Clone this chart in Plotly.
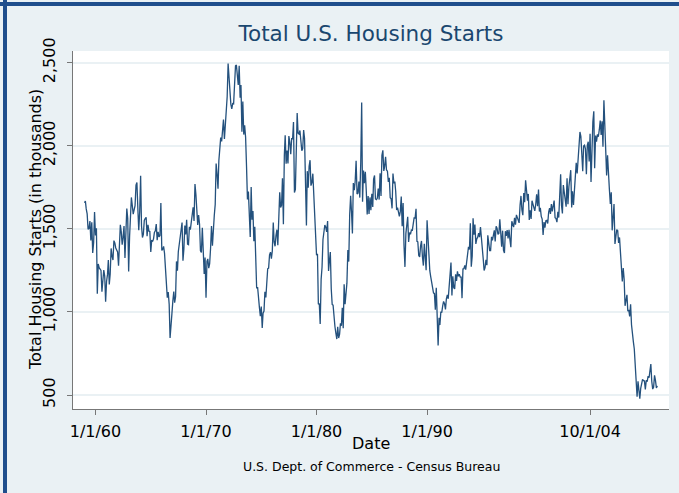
import pandas as pd
import plotly.graph_objects as go

# Monthly total U.S. housing starts (thousands, SAAR), Jan 1959 - Nov 2010
starts_1959_1969 = [
    1657, 1667, 1620, 1590, 1498, 1503, 1547, 1430, 1540, 1355, 1416, 1601,
    1460, 1503, 1109, 1289, 1266, 1260, 1250, 1122, 1176, 1252, 1216, 1061,
    1183, 1226, 1312, 1166, 1228, 1382, 1335, 1312, 1429, 1415, 1385, 1365,
    1361, 1278, 1443, 1524, 1483, 1404, 1450, 1517, 1324, 1533, 1622, 1564,
    1244, 1456, 1534, 1689, 1641, 1588, 1614, 1639, 1763, 1779, 1622, 1491,
    1603, 1820, 1517, 1448, 1467, 1550, 1562, 1569, 1455, 1524, 1486, 1484,
    1361, 1433, 1423, 1438, 1478, 1488, 1529, 1432, 1482, 1452, 1460, 1656,
    1370, 1378, 1394, 1352, 1265, 1194, 1086, 1119, 1046, 843, 961, 990,
    1067, 1123, 1056, 1091, 1304, 1248, 1364, 1407, 1421, 1491, 1538, 1308,
    1380, 1520, 1466, 1554, 1408, 1405, 1512, 1495, 1556, 1569, 1630, 1548,
    1769, 1705, 1561, 1524, 1583, 1528, 1368, 1358, 1507, 1381, 1229, 1327,
]
starts_1970s = [
    1085, 1305, 1319, 1264, 1290, 1385, 1517, 1399, 1534, 1580, 1647, 1893,
    1828, 1741, 1910, 1986, 2049, 2026, 2083, 2158, 2041, 2128, 2182, 2295,
    2494, 2390, 2334, 2249, 2221, 2254, 2252, 2382, 2481, 2485, 2421, 2366,
    2481, 2289, 2365, 2084, 2266, 2067, 2123, 2051, 1874, 1677, 1724, 1526,
    1451, 1752, 1555, 1607, 1426, 1513, 1316, 1142, 1150, 1070, 1026, 975,
    1032, 904, 993, 1005, 1121, 1087, 1226, 1260, 1264, 1344, 1360, 1321,
    1367, 1538, 1421, 1395, 1459, 1495, 1401, 1550, 1720, 1629, 1641, 1804,
    1527, 1943, 2063, 1892, 1971, 1893, 2058, 2020, 1949, 2042, 2042, 2142,
    1718, 1738, 2032, 2197, 2075, 2070, 2092, 1996, 1970, 1981, 2094, 2044,
    1630, 1520, 1847, 1748, 1876, 1913, 1760, 1778, 1832, 1681, 1524, 1498,
]
starts_1980s = [
    1341, 1350, 1047, 1051, 927, 1196, 1269, 1436, 1471, 1523, 1510, 1482,
    1547, 1246, 1306, 1360, 1140, 1045, 1041, 940, 911, 873, 837, 910,
    843, 866, 931, 917, 1025, 902, 1166, 1046, 1144, 1173, 1372, 1303,
    1586, 1699, 1606, 1472, 1776, 1733, 1785, 1910, 1710, 1715, 1785, 1688,
    1897, 2260, 1663, 1851, 1774, 1843, 1732, 1586, 1698, 1590, 1689, 1612,
    1711, 1632, 1800, 1821, 1680, 1676, 1684, 1743, 1676, 1834, 1698, 1942,
    1972, 1848, 1876, 1933, 1854, 1847, 1782, 1807, 1687, 1681, 1623, 1833,
    1774, 1784, 1726, 1614, 1628, 1594, 1575, 1605, 1695, 1515, 1656, 1400,
    1271, 1473, 1532, 1573, 1421, 1478, 1467, 1493, 1492, 1522, 1569, 1563,
    1621, 1425, 1422, 1339, 1331, 1397, 1427, 1332, 1279, 1410, 1351, 1251,
]
starts_1990s = [
    1551, 1437, 1289, 1248, 1212, 1177, 1171, 1115, 1110, 1014, 1145, 969,
    798, 965, 921, 1001, 996, 1036, 1063, 1049, 1015, 1079, 1103, 1079,
    1176, 1250, 1297, 1099, 1214, 1145, 1139, 1226, 1186, 1244, 1214, 1227,
    1210, 1210, 1083, 1258, 1260, 1280, 1254, 1300, 1343, 1392, 1376, 1533,
    1272, 1337, 1564, 1465, 1526, 1409, 1439, 1450, 1474, 1450, 1511, 1455,
    1407, 1316, 1249, 1267, 1314, 1281, 1461, 1416, 1369, 1369, 1452, 1431,
    1467, 1491, 1424, 1516, 1504, 1467, 1472, 1557, 1475, 1392, 1489, 1370,
    1355, 1486, 1457, 1492, 1442, 1494, 1437, 1390, 1546, 1520, 1510, 1566,
    1525, 1584, 1567, 1540, 1536, 1641, 1698, 1614, 1582, 1715, 1660, 1792,
    1748, 1670, 1710, 1553, 1611, 1559, 1669, 1648, 1635, 1608, 1648, 1708,
]
starts_2000s = [
    1636, 1737, 1604, 1626, 1575, 1559, 1463, 1541, 1507, 1549, 1551, 1532,
    1600, 1625, 1590, 1649, 1605, 1636, 1670, 1567, 1562, 1540, 1602, 1568,
    1698, 1829, 1642, 1592, 1764, 1717, 1655, 1633, 1804, 1648, 1753, 1788,
    1853, 1629, 1726, 1643, 1751, 1867, 1897, 1833, 1939, 1967, 2083, 2057,
    1911, 1846, 1998, 2003, 1981, 1828, 2002, 2024, 1905, 2072, 1782, 2042,
    2144, 2207, 1864, 2061, 2025, 2068, 2054, 2095, 2151, 2065, 2147, 1994,
    2273, 2119, 1969, 1821, 1942, 1802, 1737, 1650, 1720, 1491, 1570, 1649,
    1409, 1480, 1495, 1490, 1415, 1448, 1354, 1330, 1183, 1264, 1197, 1037,
    1084, 1103, 1005, 1013, 973, 1046, 923, 844, 820, 777, 652, 560,
    490, 582, 505, 478, 540, 585, 594, 586, 585, 534, 588, 581,
]
starts_2010 = [614, 605, 636, 687, 583, 536, 546, 619, 588, 543, 555]

first_month = "1959-01-01"
x_tick_dates = ["1960-01-01", "1970-01-01", "1980-01-01", "1990-01-01", "2004-10-01"]
x_tick_labels = ["1/1/60", "1/1/70", "1/1/80", "1/1/90", "10/1/04"]
y_tick_values = [500, 1000, 1500, 2000, 2500]
y_tick_labels = ["500", "1,000", "1,500", "2,000", "2,500"]

values = starts_1959_1969 + starts_1970s + starts_1980s + starts_1990s + starts_2000s + starts_2010
dates = pd.date_range(first_month, periods=len(values), freq="MS")

W, H = 679, 493
L, R, T, B = 73, 10, 51, 84
pw, ph = W - L - R, H - T - B

def px_x(px):
    return (px - L) / pw

def px_y(py):
    return (H - B - py) / ph

BG = "#EAF1F4"
NAVY = "#1A476F"
LINE = "#24517D"
FONT = "DejaVu Sans"

fig = go.Figure()
fig.add_trace(go.Scatter(x=dates, y=values, mode="lines",
                         line=dict(color=LINE, width=1.3), showlegend=False))

fig.update_layout(
    width=W, height=H,
    margin=dict(l=L, r=R, t=T, b=B),
    paper_bgcolor=BG, plot_bgcolor="white",
    font=dict(family=FONT, color="black"),
    title=dict(text="Total U.S. Housing Starts", x=0.5, xref="paper",
               y=1 - 33 / H, yref="container", yanchor="middle", xanchor="center",
               font=dict(size=21.5, color=NAVY, family=FONT)),
)
fig.update_xaxes(
    type="date", range=["1957-12-19", "2011-11-22"],
    tickvals=x_tick_dates, ticktext=x_tick_labels,
    showgrid=False, zeroline=False,
    showline=True, linecolor="#777777", linewidth=1,
    ticks="outside", ticklen=5, tickcolor="#777777",
    tickfont=dict(size=16, color="black"), ticklabelstandoff=3,
)
fig.update_yaxes(
    range=[416, 2570],
    tickvals=y_tick_values, ticktext=y_tick_labels, tickangle=-90,
    showgrid=True, gridcolor=BG, gridwidth=2, zeroline=False,
    showline=True, linecolor="#777777", linewidth=1,
    ticks="outside", ticklen=5, tickcolor="#777777",
    tickfont=dict(size=16, color="black"), ticklabelstandoff=6,
)

fig.add_annotation(text="Date", xref="paper", yref="paper", x=0.5, y=px_y(443),
                   xanchor="center", yanchor="middle", showarrow=False,
                   font=dict(size=16, color="black", family=FONT))
fig.add_annotation(text="U.S. Dept. of Commerce - Census Bureau", xref="paper", yref="paper",
                   x=0.5, y=px_y(466), xanchor="center", yanchor="middle", showarrow=False,
                   font=dict(size=12.5, color="black", family=FONT))
fig.add_annotation(text="Total Housing Starts (in thousands)", xref="paper", yref="paper",
                   x=px_x(35), y=0.5, xanchor="center", yanchor="middle", textangle=-90,
                   showarrow=False, font=dict(size=16, color="black", family=FONT))

BORDER = "#1F4E8C"
fig.add_shape(type="line", xref="paper", yref="paper", x0=px_x(5), x1=px_x(5),
              y0=px_y(0), y1=px_y(H), line=dict(color=BORDER, width=4), layer="above")
fig.add_shape(type="line", xref="paper", yref="paper", x0=px_x(0), x1=px_x(W),
              y0=px_y(4), y1=px_y(4), line=dict(color=BORDER, width=4), layer="above")

fig.write_html(
    "out.html",
    config={"displayModeBar": False},
    post_script="document.body.style.margin='0';document.body.style.overflow='hidden';",
)
